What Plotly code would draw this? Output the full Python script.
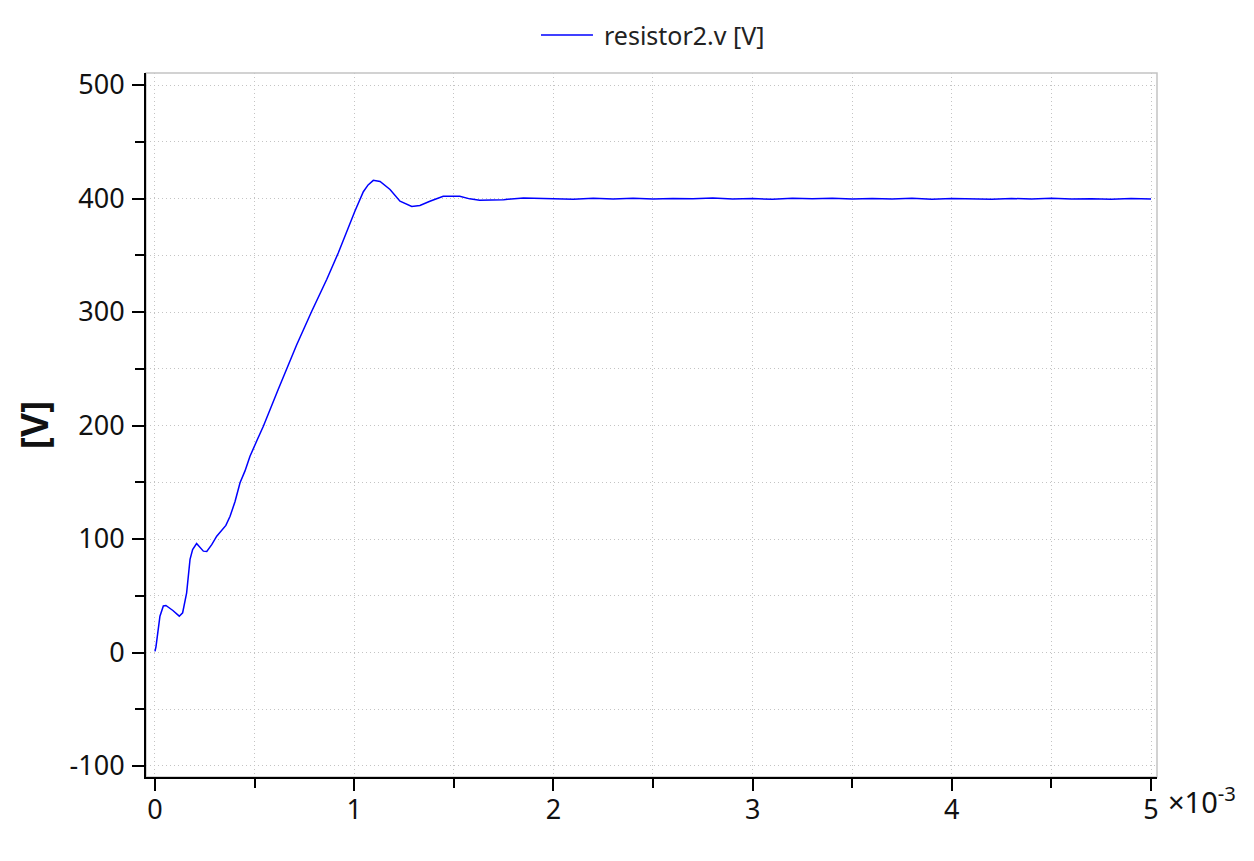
import plotly.graph_objects as go

# time in ms (axis shows values x 10^-3 s), voltage in V
time_ms = [0.0, 0.005, 0.025, 0.042, 0.055, 0.09, 0.122, 0.139, 0.159, 0.176, 0.189,
           0.209, 0.243, 0.26, 0.285, 0.31, 0.356, 0.377, 0.402, 0.427, 0.452, 0.477,
           0.514, 0.544, 0.619, 0.711, 0.787, 0.862, 0.92, 0.962, 1.004, 1.046, 1.07,
           1.096, 1.13, 1.18, 1.23, 1.289, 1.33, 1.38, 1.447, 1.53, 1.58, 1.63, 1.75,
           1.85, 1.97, 2.1, 2.2, 2.3, 2.4, 2.5, 2.6, 2.7, 2.8, 2.9, 3.0, 3.1, 3.2,
           3.3, 3.4, 3.5, 3.6, 3.7, 3.8, 3.9, 4.0, 4.1, 4.2, 4.3, 4.4, 4.5, 4.6,
           4.7, 4.8, 4.9, 5.0]
resistor2_v = [1, 5, 32, 41, 41.4, 37, 32, 35, 52.6, 82, 90.7,
               96, 89.3, 89, 95, 102.5, 112, 120, 133, 149.5, 160, 173,
               187.7, 199.4, 232, 271, 300.7, 328.6, 352, 371, 389, 406, 412,
               416, 415, 408, 397.6, 393, 393.8, 397.6, 402, 402, 399.7, 398.5, 399,
               400.5, 399.8, 399.4, 400.3, 399.6, 400.2, 399.5, 400.1, 399.7, 400.4, 399.6, 400.0,
               399.3, 400.2, 399.8, 400.3, 399.5, 400.0, 399.6, 400.2, 399.4, 400.1, 399.7, 399.3,
               400.0, 399.6, 400.2, 399.5, 399.9, 399.4, 400.1, 399.6]

y_ticks = [-100, 0, 100, 200, 300, 400, 500]
y_labels = ["-100", "0", "100", "200", "300", "400", "500"]
x_ticks = [0, 1, 2, 3, 4, 5]
series_name = "resistor2.v [V]"

font = "Noto Sans, Open Sans, sans-serif"
grid = "#c4c4c4"
dots = "1px,3px"

fig = go.Figure()
fig.add_trace(go.Scatter(x=time_ms, y=resistor2_v, mode="lines", name=series_name,
                         line=dict(color="#0000ff", width=1.5), showlegend=False))

# light grey frame on the top and right
fig.add_shape(type="rect", xref="paper", yref="paper", x0=0, y0=0, x1=1, y1=1,
              line=dict(color=grid, width=1.5), layer="below")

# legend drawn by hand so the sample line is as long as in the original
fig.add_shape(type="line", xref="paper", yref="paper", x0=0.3907, x1=0.4421, y0=1.054, y1=1.054,
              line=dict(color="#0000ff", width=1.5))
fig.add_annotation(text=series_name, xref="paper", yref="paper", x=0.451, y=1.054,
                   xanchor="left", yanchor="middle", showarrow=False,
                   font=dict(family=font, size=25, color="#222222"))

fig.add_annotation(text="×10<sup>-3</sup>", xref="paper", yref="paper", x=1.009, y=0.0,
                   xanchor="left", yanchor="top", showarrow=False,
                   font=dict(family=font, size=29, color="#111111"))

axis_common = dict(showline=True, linecolor="black", linewidth=2, ticks="outside",
                   ticklen=12, tickwidth=2, tickcolor="black", automargin=False,
                   showgrid=True, gridcolor=grid, griddash=dots, gridwidth=1,
                   zeroline=False, tickfont=dict(family=font, size=27, color="#111111"))

fig.update_xaxes(range=[-0.045, 5.03], tickvals=x_ticks, ticklabelstandoff=-4,
                 minor=dict(dtick=0.5, ticks="outside", ticklen=9, tickwidth=2, tickcolor="black",
                            showgrid=True, gridcolor=grid, griddash=dots),
                 **axis_common)
fig.update_yaxes(range=[-109.7, 510.6], tickvals=y_ticks, ticktext=y_labels, ticklabelstandoff=2,
                 title=dict(text="<b>[V]</b>", font=dict(family=font, size=37, color="#111111"),
                            standoff=12),
                 minor=dict(dtick=50, ticks="outside", ticklen=9, tickwidth=2, tickcolor="black",
                            showgrid=True, gridcolor=grid, griddash=dots),
                 **axis_common)

# the page body adds an 8px offset, so the margins are shifted to compensate
fig.update_layout(width=1254, height=861, plot_bgcolor="white", paper_bgcolor="white",
                  margin=dict(l=138, r=105, t=65, b=92, autoexpand=False))

fig.write_html("out.html")
